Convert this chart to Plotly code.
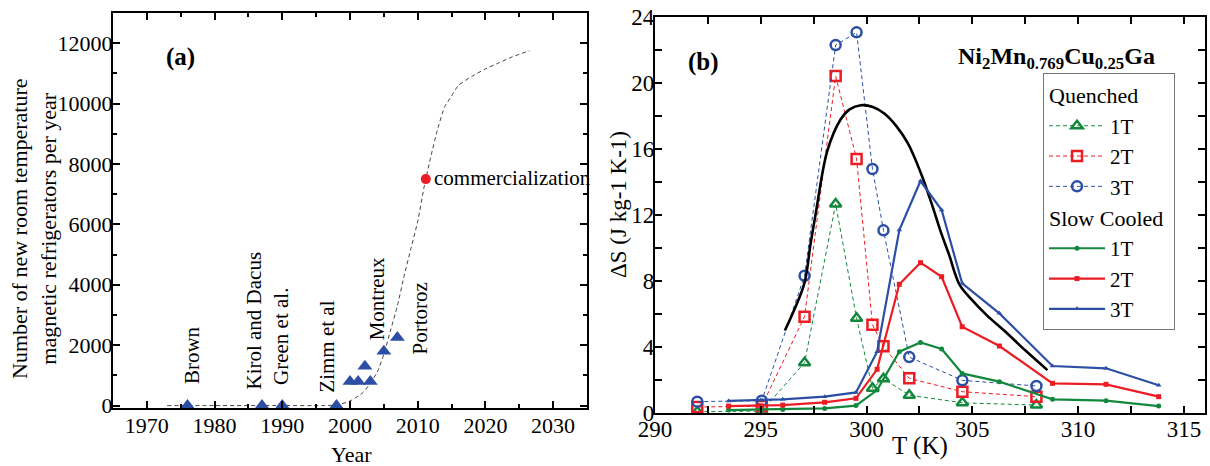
import plotly.graph_objects as go

# ---------------- Panel (a) data ----------------
proto_years = [1976, 1987, 1990, 1998, 2000, 2001.2, 2002.2, 2003, 2005, 2007]
proto_counts = [0, 0, 0, 0, 800, 800, 1300, 800, 1800, 2250]

trend_years = [1973, 1980, 1990, 1996, 1998, 2000, 2002, 2004, 2005, 2006, 2007, 2008,
               2009, 2010, 2011, 2012, 2013, 2014, 2015, 2016, 2018, 2020, 2022, 2024, 2026.5]
trend_counts = [0, 0, 0, 0, 20, 150, 450, 1100, 1700, 2500, 3300, 4300,
                5200, 6100, 7300, 8300, 9200, 9900, 10250, 10600, 10900, 11150, 11350, 11550, 11750]

commercial_year = [2011.2]
commercial_count = [7500]

label_texts = ["Brown", "Kirol and Dacus", "Green et al.", "Zimm et al", "Montreux", "Portoroz"]
label_years = [1976.6, 1985.8, 1989.8, 1996.6, 2004.0, 2010.3]
label_counts = [630, 460, 630, 360, 2080, 1620]

# ---------------- Panel (b) data ----------------
T_q = [292.0, 295.05, 297.07, 298.54, 299.53, 300.28, 300.8, 302.02, 304.53, 308.03]
q_1T = [0.08, 0.12, 3.05, 12.67, 5.74, 1.5, 2.08, 1.08, 0.62, 0.48]
q_2T = [0.36, 0.42, 5.84, 20.42, 15.4, 5.35, 4.04, 2.1, 1.29, 0.99]
q_3T = [0.69, 0.75, 8.32, 22.3, 23.07, 14.79, 11.07, 3.39, 1.98, 1.64]

T_s = [293.48, 295.0, 296.04, 298.02, 299.5, 300.5, 301.55, 302.55, 303.55, 304.52,
       306.28, 308.79, 311.32, 313.81]
s_1T = [0.18, 0.2, 0.22, 0.28, 0.45, 1.39, 3.72, 4.28, 3.88, 2.4, 1.9, 0.83, 0.75, 0.42]
s_2T = [0.42, 0.44, 0.48, 0.65, 0.89, 2.65, 7.8, 9.11, 8.26, 5.23, 4.06, 1.8, 1.74, 0.99]
s_3T = [0.73, 0.79, 0.83, 0.99, 1.25, 3.72, 11.09, 14.06, 12.3, 7.86, 6.04, 2.85, 2.71, 1.68]

T_fit = [296.14, 296.6, 297.07, 297.36, 297.6, 298.15, 298.78, 299.2, 299.73, 300.3,
         300.84, 301.4, 301.95, 302.58, 303.1, 303.53, 303.9, 304.39, 304.95, 305.7,
         306.5, 307.5, 308.55]
dS_fit = [5.0, 6.3, 7.9, 10.3, 12.1, 15.9, 17.8, 18.4, 18.65, 18.55,
          18.15, 17.4, 16.35, 14.5, 12.6, 10.9, 9.6, 7.8, 6.9, 5.9,
          5.0, 3.8, 2.6]

GREEN = "#12883c"
RED = "#ec1c24"
BLUE = "#2c4fa5"
FONT = "Liberation Serif"

fig = go.Figure()

# Panel (a)
fig.add_trace(go.Scatter(x=trend_years, y=trend_counts, mode="lines",
                         line=dict(color="#444444", width=1, dash="4px,3px", shape="spline", smoothing=0.6),
                         showlegend=False, hoverinfo="skip", xaxis="x", yaxis="y"))
fig.add_trace(go.Scatter(x=proto_years, y=proto_counts, mode="markers",
                         marker=dict(symbol="triangle-up", size=13, color=BLUE),
                         showlegend=False, xaxis="x", yaxis="y"))
fig.add_trace(go.Scatter(x=commercial_year, y=commercial_count, mode="markers",
                         marker=dict(symbol="circle", size=10, color=RED),
                         showlegend=False, xaxis="x", yaxis="y"))

# Panel (b) quenched
for name, ys, col, sym in [("1T", q_1T, GREEN, "triangle-up-open"),
                           ("2T", q_2T, RED, "square-open"),
                           ("3T", q_3T, BLUE, "circle-open")]:
    fig.add_trace(go.Scatter(x=T_q, y=ys, mode="lines+markers", name=name,
                             legendgroup="q", legendgrouptitle=dict(text="Quenched"),
                             line=dict(color=col, width=1, dash="4px,3px"),
                             marker=dict(symbol=sym, size=10, color=col, line=dict(width=2.5, color=col)),
                             xaxis="x2", yaxis="y2"))

# Black curve
fig.add_trace(go.Scatter(x=T_fit, y=dS_fit, mode="lines", line=dict(color="black", width=2.6, shape="spline"),
                         showlegend=False, hoverinfo="skip", xaxis="x2", yaxis="y2"))

# Panel (b) slow cooled
for name, ys, col, sym in [("1T", s_1T, GREEN, "circle"),
                           ("2T", s_2T, RED, "square"),
                           ("3T", s_3T, BLUE, "triangle-up")]:
    fig.add_trace(go.Scatter(x=T_s, y=ys, mode="lines+markers", name=name,
                             legendgroup="s", legendgrouptitle=dict(text="Slow Cooled"),
                             line=dict(color=col, width=2.2),
                             marker=dict(symbol=sym, size=5, color=col),
                             xaxis="x2", yaxis="y2"))

tickfont_a = dict(family=FONT, size=22, color="black")
tickfont_b = dict(family=FONT, size=23, color="black")

common = dict(showline=True, linecolor="black", linewidth=2, mirror="ticks", ticks="inside",
              tickcolor="black", tickwidth=1.5, ticklen=7, showgrid=False, zeroline=False,
              automargin=False)

fig.update_layout(
    width=1210, height=466,
    margin=dict(l=0, r=0, t=0, b=0, autoexpand=False),
    paper_bgcolor="white", plot_bgcolor="white",
    font=dict(family=FONT, color="black"),
    xaxis=dict(domain=[0.0934, 0.4851], range=[1965, 2035], tickvals=[1970, 1980, 1990, 2000, 2010, 2020, 2030],
               minor=dict(dtick=5, tick0=1965, ticklen=4, ticks="inside", tickcolor="black"),
               tickfont=tickfont_a, ticklabelstandoff=-3, **common),
    yaxis=dict(domain=[0.1245, 0.9721], range=[-80, 13000], tick0=0, dtick=2000, tickformat="d",
               minor=dict(dtick=1000, ticklen=4, ticks="inside", tickcolor="black"),
               tickfont=tickfont_a, ticklabelstandoff=-6, **common),
    xaxis2=dict(domain=[0.5413, 0.9959], range=[290, 316], tickvals=[290, 295, 300, 305, 310, 315],
                anchor="y2",
                minor=dict(dtick=2.5, tick0=290, ticklen=7, ticks="inside", tickcolor="black"),
                tickfont=tickfont_b, ticklabelstandoff=-6, **common),
    yaxis2=dict(domain=[0.1137, 0.9635], range=[0, 24], tick0=0, dtick=4, anchor="x2",
                minor=dict(dtick=2, ticklen=7, ticks="inside", tickcolor="black"),
                tickfont=tickfont_b, ticklabelstandoff=-6, **common),
    legend=dict(x=0.862, y=1 - 73 / 466, xanchor="left", yanchor="top",
                bgcolor="white", bordercolor="#777777", borderwidth=1,
                font=dict(family=FONT, size=21, color="black"),
                grouptitlefont=dict(family=FONT, size=22, color="black"),
                tracegroupgap=0, itemwidth=56),
)

annotations = []


def ann(text, x, y, size, angle=0, xanchor="center", yanchor="middle"):
    annotations.append(dict(text=text, xref="paper", yref="paper", x=x / 1210, y=1 - y / 466,
                            textangle=angle, xanchor=xanchor, yanchor=yanchor, showarrow=False,
                            font=dict(family=FONT, size=size, color="black")))


# axis titles
ann("Number of new room temperature<br>magnetic refrigerators per year", 34, 229, 22, angle=-90)
ann("Year", 351, 454, 22)
ann("ΔS (J kg-1 K-1)", 618, 205, 23, angle=-90)
ann("T (K)", 920, 446, 25)
# panel labels
ann("<b>(a)</b>", 180, 57, 25)
ann("<b>(b)</b>", 703, 62, 25)
ann("<b>Ni<sub>2</sub>Mn<sub>0.769</sub>Cu<sub>0.25</sub>Ga</b>", 1157, 58, 24, xanchor="right")

for t, xv, yv in zip(label_texts, label_years, label_counts):
    annotations.append(dict(text=t, x=xv, y=yv, xref="x", yref="y", textangle=-90,
                            yanchor="bottom", xanchor="center", showarrow=False,
                            font=dict(family=FONT, size=21, color="black")))
annotations.append(dict(text="commercialization", x=2012.05, y=7540, xref="x", yref="y",
                        xanchor="left", yanchor="middle", showarrow=False,
                        font=dict(family=FONT, size=21, color="black")))
fig.update_layout(annotations=annotations)

fig.write_html("out.html", config={"displayModeBar": False},
               post_script="document.body.style.margin='0';document.body.style.overflow='hidden';")
